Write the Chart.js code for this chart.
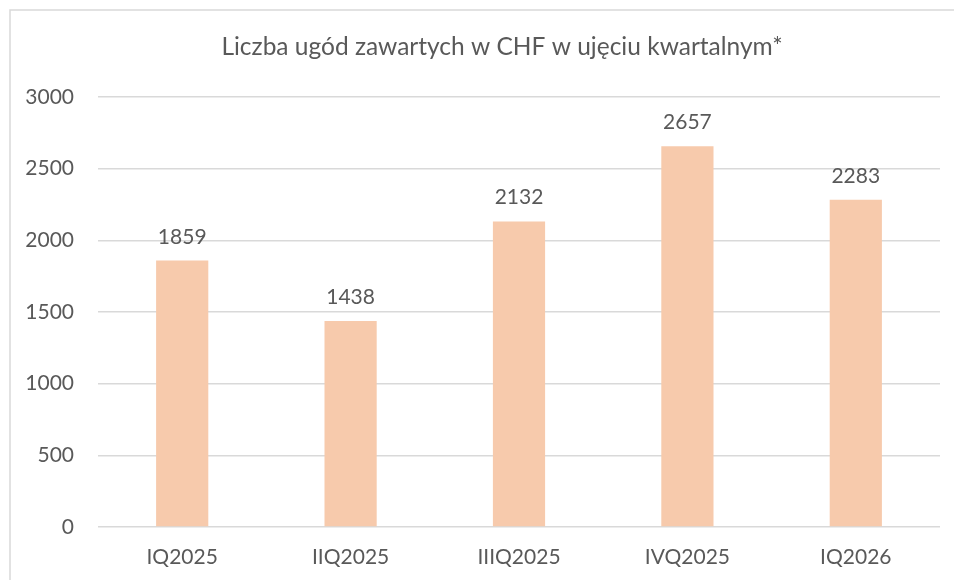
<!DOCTYPE html>
<html>
<head>
<meta charset="utf-8">
<script src="https://cdn.jsdelivr.net/npm/chart.js@4"></script>
<style>
  html, body { margin: 0; padding: 0; background: #ffffff; }
  #wrap { width: 954px; height: 580px; position: relative; }
</style>
</head>
<body>
<div id="wrap"><canvas id="c" width="954" height="580"></canvas></div>
<script>
const chartTitle = 'Liczba ugód zawartych w CHF w ujęciu kwartalnym*';
const categories = ['IQ2025', 'IIQ2025', 'IIIQ2025', 'IVQ2025', 'IQ2026'];
const settlements = [1859, 1438, 2132, 2657, 2283];
const yTicks = [0, 500, 1000, 1500, 2000, 2500, 3000];

const TEXT = '#595959';
const FONT = 'Lato, "Open Sans", sans-serif';

const frame = {
  id: 'frame',
  beforeDraw(chart) {
    const ctx = chart.ctx;
    ctx.save();
    ctx.fillStyle = '#ffffff';
    ctx.fillRect(0, 0, chart.width, chart.height);
    ctx.strokeStyle = '#d9d9d9';
    ctx.lineWidth = 1.5;
    ctx.strokeRect(10, 10, chart.width + 20, chart.height + 20);
    ctx.restore();
  }
};

const titleDraw = {
  id: 'titleDraw',
  afterDraw(chart) {
    const ctx = chart.ctx;
    ctx.save();
    ctx.font = '24.5px ' + FONT;
    ctx.fillStyle = TEXT;
    ctx.textAlign = 'center';
    ctx.textBaseline = 'middle';
    ctx.fillText(chartTitle, 502, 47);
    ctx.restore();
  }
};

const valueLabels = {
  id: 'valueLabels',
  afterDatasetsDraw(chart) {
    const ctx = chart.ctx;
    const meta = chart.getDatasetMeta(0);
    ctx.save();
    ctx.font = '21px ' + FONT;
    ctx.fillStyle = TEXT;
    ctx.textAlign = 'center';
    ctx.textBaseline = 'alphabetic';
    meta.data.forEach((bar, i) => {
      ctx.fillText(String(chart.data.datasets[0].data[i]), bar.x, bar.y - 17);
    });
    ctx.restore();
  }
};

new Chart(document.getElementById('c'), {
  type: 'bar',
  data: {
    labels: categories,
    datasets: [{
      data: settlements,
      backgroundColor: '#f7caac',
      borderWidth: 0,
      barPercentage: 0.62,
      categoryPercentage: 0.5
    }]
  },
  options: {
    responsive: false,
    animation: false,
    devicePixelRatio: 1,
    layout: { padding: { top: 97, right: 14, left: 0, bottom: 0 } },
    plugins: {
      legend: { display: false },
      title: { display: false },
      tooltip: { enabled: false }
    },
    scales: {
      x: {
        grid: { display: false, drawTicks: false },
        border: { display: false },
        ticks: { color: TEXT, font: { family: FONT, size: 21 }, padding: 18, maxRotation: 0 },
        afterFit(scale) { scale.height = 53; }
      },
      y: {
        min: 0,
        max: 3000,
        afterBuildTicks(scale) { scale.ticks = yTicks.map(v => ({ value: v })); },
        grid: { color: '#d9d9d9', lineWidth: 1.5, drawTicks: false },
        border: { display: false },
        ticks: {
          color: TEXT,
          font: { family: FONT, size: 21 },
          padding: 24,
          callback: (v) => String(v)
        },
        afterFit(scale) { scale.width = 98; }
      }
    }
  },
  plugins: [frame, titleDraw, valueLabels]
});
</script>
</body>
</html>
